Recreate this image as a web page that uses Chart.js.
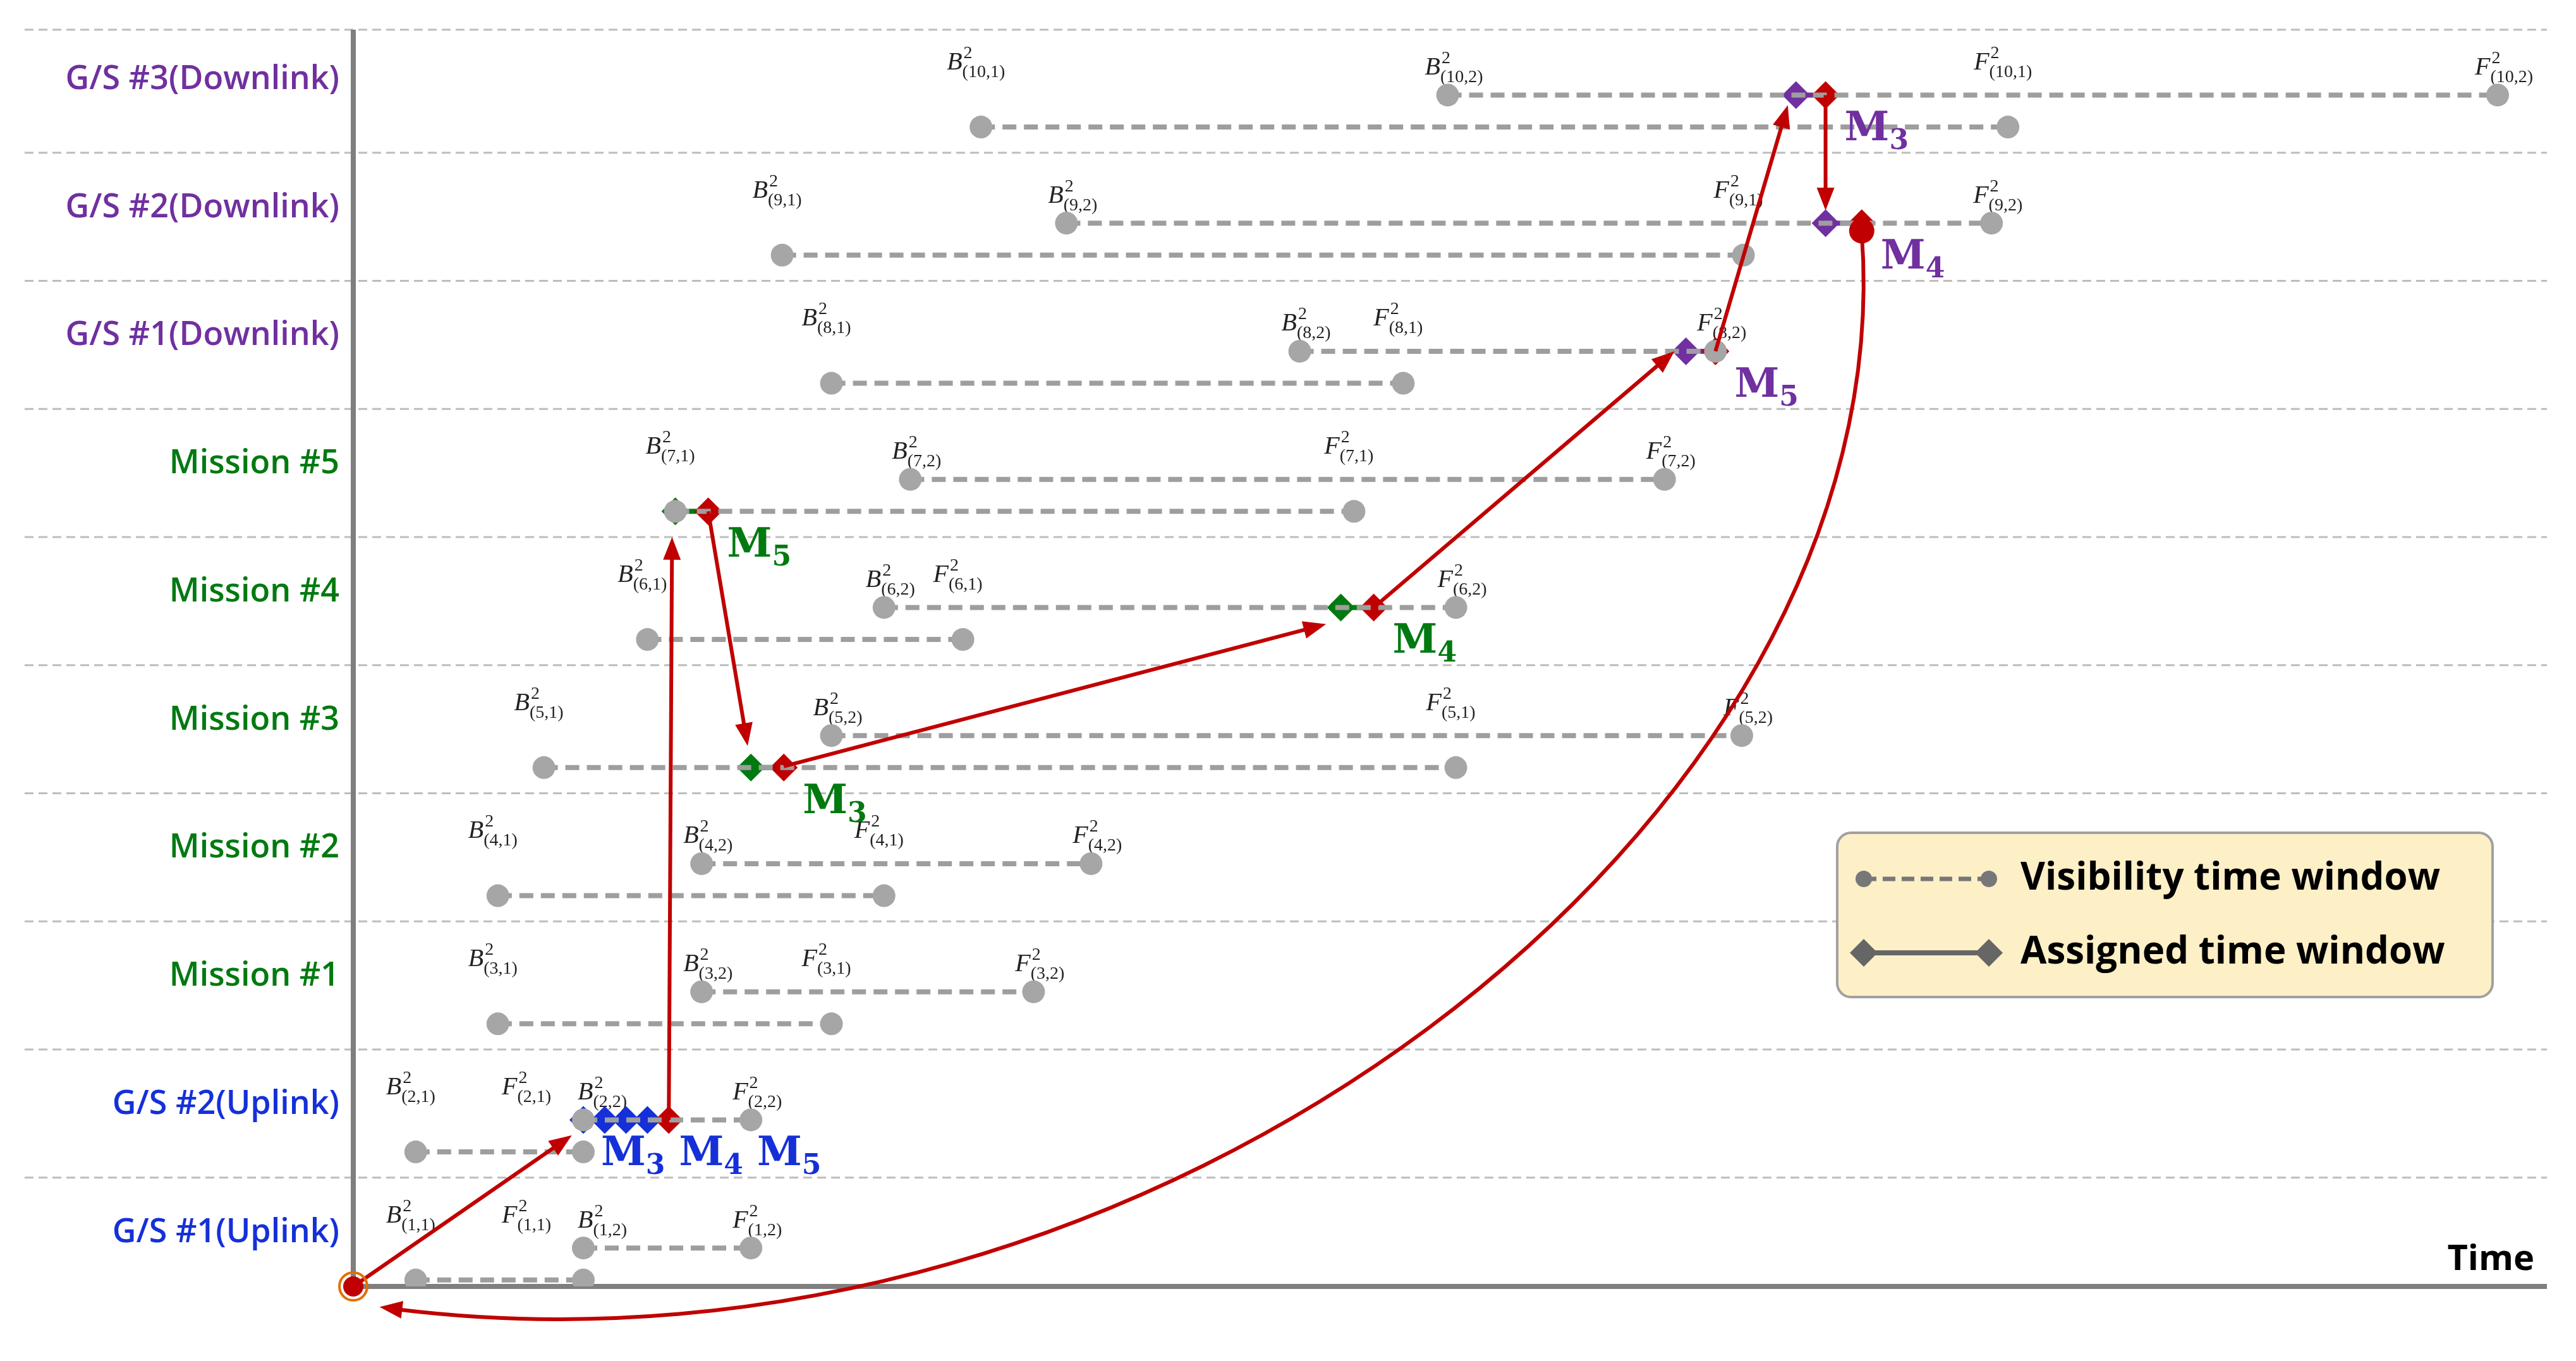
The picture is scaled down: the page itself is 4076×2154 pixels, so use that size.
<!DOCTYPE html>
<html>
<head>
<meta charset="utf-8">
<script src="https://cdn.jsdelivr.net/npm/chart.js@4.4.0/dist/chart.umd.min.js"></script>
<style>
  html, body { margin: 0; padding: 0; background: #fff; }
  #wrap { width: 4076px; height: 2154px; }
</style>
</head>
<body>
<div id="wrap"><canvas id="myChart"></canvas></div>
<script>
// Filas, de abajo hacia arriba
const rowNames = ['G/S #1(Uplink)', 'G/S #2(Uplink)', 'Mission #1', 'Mission #2', 'Mission #3',
  'Mission #4', 'Mission #5', 'G/S #1(Downlink)', 'G/S #2(Downlink)', 'G/S #3(Downlink)'];
const rowColors = ['#1530d8', '#1530d8', '#007a10', '#007a10', '#007a10',
  '#007a10', '#007a10', '#7030a0', '#7030a0', '#7030a0'];
// Ventanas de visibilidad (tiempo)
const w1Start = [3.8, 3.8, 8.8, 8.8, 11.6, 17.9, 19.6, 29.1, 26.1, 38.2];
const w1End   = [14.0, 14.0, 29.1, 32.3, 67.1, 37.1, 60.9, 63.9, 84.6, 100.7];
const w2Start = [14.0, 14.0, 21.2, 21.2, 29.1, 32.3, 33.9, 57.6, 43.4, 66.6];
const w2End   = [24.2, 24.2, 41.4, 44.9, 84.5, 67.1, 79.8, 82.9, 99.7, 130.5];
// Ventanas asignadas: fila, ventana (1 o 2), tiempos, etiqueta
const assignedRow = [1, 6, 4, 5, 7, 8, 9];
const assignedWin = [2, 1, 1, 2, 2, 2, 2];
const assignedTimes = [[14.0, 15.3, 16.6, 17.9, 19.2], [19.6, 21.6], [24.2, 26.2], [60.1, 62.1],
  [81.1, 82.9], [89.6, 91.8], [87.8, 89.6]];
const assignedLabels = [['3', '4', '5'], ['5'], ['3'], ['4'], ['5'], ['4'], ['3']];
// Flechas (inicio y fin en unidades de datos)
const arrowFrom = [[0, 0], [19.2, 1.3], [21.6, 6.05], [26.2, 4.06], [62.1, 5.3], [82.9, 7.3], [89.6, 9.3]];
const arrowTo   = [[13.3, 1.18], [19.4, 5.85], [24.0, 4.22], [59.2, 5.17], [80.4, 7.3], [87.3, 9.22], [89.6, 8.4]];
const returnCurve = [[91.8, 8.22], [94.5, 3.6], [48.5, -0.9], [1.6, -0.16]];

const lowY = k => k + 0.05;
const upY = k => k + 0.3;
const RED = '#c00000';

const datasets = [];
rowNames.forEach((n, k) => {
  [[w1Start[k], w1End[k], lowY(k)], [w2Start[k], w2End[k], upY(k)]].forEach(([a, b, y]) => {
    datasets.push({
      data: [{ x: a, y }, { x: b, y }], showLine: true,
      borderColor: '#9e9e9e', borderWidth: 8, borderDash: [22, 12],
      pointRadius: 18, pointBackgroundColor: '#a6a6a6', pointBorderWidth: 0
    });
  });
});
assignedRow.forEach((k, i) => {
  const y = assignedWin[i] === 1 ? lowY(k) : upY(k);
  const t = assignedTimes[i];
  datasets.push({
    data: t.map(x => ({ x, y })), showLine: true,
    borderColor: rowColors[k], borderWidth: 8,
    pointStyle: 'rectRot', pointRadius: 22, pointBorderWidth: 0,
    pointBackgroundColor: t.map((_, j) => j === t.length - 1 ? RED : rowColors[k])
  });
});

function bf(ctx, letter, i, j, x, y) {
  ctx.fillStyle = '#222';
  ctx.textBaseline = 'alphabetic';
  ctx.textAlign = 'left';
  ctx.font = 'italic 40px "Liberation Serif"';
  const w = ctx.measureText(letter).width;
  const sub = '(' + i + ',' + j + ')';
  ctx.font = '28px "Liberation Serif"';
  const ws = ctx.measureText(sub).width;
  const x0 = x - (w + ws) / 2;
  ctx.font = 'italic 40px "Liberation Serif"';
  ctx.fillText(letter, x0, y);
  ctx.font = '28px "Liberation Serif"';
  ctx.fillText('2', x0 + w + 2, y - 18);
  ctx.fillText(sub, x0 + w, y + 12);
}

function arrowHead(ctx, x, y, ang) {
  const L = 36, W = 14;
  ctx.beginPath();
  ctx.moveTo(x, y);
  ctx.lineTo(x - L * Math.cos(ang) + W * Math.sin(ang), y - L * Math.sin(ang) - W * Math.cos(ang));
  ctx.lineTo(x - L * Math.cos(ang) - W * Math.sin(ang), y - L * Math.sin(ang) + W * Math.cos(ang));
  ctx.closePath();
  ctx.fill();
}

const decor = {
  id: 'decor',
  beforeDatasetsDraw(chart) {
    const { ctx, scales: { x, y }, chartArea: ca } = chart;
    ctx.save();
    // líneas de separación
    ctx.strokeStyle = '#bdbdbd'; ctx.lineWidth = 3; ctx.setLineDash([14, 8]);
    for (let k = 0; k <= 9; k++) {
      const py = Math.max(y.getPixelForValue(k + 0.85), ca.top);
      ctx.beginPath(); ctx.moveTo(39, py); ctx.lineTo(ca.right, py); ctx.stroke();
    }
    ctx.setLineDash([]);
    // ejes
    ctx.strokeStyle = '#7f7f7f'; ctx.lineWidth = 8;
    ctx.beginPath(); ctx.moveTo(ca.left, ca.top); ctx.lineTo(ca.left, ca.bottom);
    ctx.lineTo(ca.right, ca.bottom); ctx.stroke();
    // nombres de filas
    ctx.font = '600 52px "Open Sans"'; ctx.textAlign = 'right'; ctx.textBaseline = 'middle';
    rowNames.forEach((n, k) => {
      ctx.fillStyle = rowColors[k];
      ctx.fillText(n, ca.left - 22, y.getPixelForValue(k + 0.42));
    });
    ctx.fillStyle = '#000'; ctx.font = 'bold 56px "Open Sans"';
    ctx.fillText('Time', ca.right - 20, ca.bottom - 42);
    // etiquetas B / F
    rowNames.forEach((n, k) => {
      const ly = y.getPixelForValue(k + 0.5);
      const same = w1End[k] === w2Start[k];
      bf(ctx, 'B', k + 1, 1, x.getPixelForValue(w1Start[k]) - 8, ly);
      bf(ctx, 'F', k + 1, 1, x.getPixelForValue(w1End[k]) - (same ? 90 : 8), ly);
      bf(ctx, 'B', k + 1, 2, x.getPixelForValue(w2Start[k]) + (same ? 30 : 10), ly + 8);
      bf(ctx, 'F', k + 1, 2, x.getPixelForValue(w2End[k]) + 10, ly + 8);
    });
    ctx.restore();
  },
  afterDatasetsDraw(chart) {
    const { ctx, scales: { x, y } } = chart;
    const px = p => [x.getPixelForValue(p[0]), y.getPixelForValue(p[1])];
    ctx.save();
    ctx.strokeStyle = RED; ctx.fillStyle = RED; ctx.lineWidth = 6;
    arrowFrom.forEach((f, i) => {
      const [x0, y0] = px(f), [x1, y1] = px(arrowTo[i]);
      const ang = Math.atan2(y1 - y0, x1 - x0);
      ctx.beginPath(); ctx.moveTo(x0, y0);
      ctx.lineTo(x1 - 30 * Math.cos(ang), y1 - 30 * Math.sin(ang)); ctx.stroke();
      arrowHead(ctx, x1, y1, ang);
    });
    const c = returnCurve.map(px);
    ctx.beginPath(); ctx.moveTo(c[0][0], c[0][1]);
    ctx.bezierCurveTo(c[1][0], c[1][1], c[2][0], c[2][1], c[3][0] + 30, c[3][1] + 4);
    ctx.stroke();
    arrowHead(ctx, c[3][0], c[3][1], Math.atan2(c[3][1] - c[2][1], c[3][0] - c[2][0]));
    // origen
    const [ox, oy] = px([0, 0]);
    ctx.beginPath(); ctx.arc(ox, oy, 16, 0, Math.PI * 2); ctx.fill();
    ctx.strokeStyle = '#e07000'; ctx.lineWidth = 4;
    ctx.beginPath(); ctx.arc(ox, oy, 22, 0, Math.PI * 2); ctx.stroke();
    // círculo rojo grande G/S #2 downlink
    const g = px([assignedTimes[5][1], upY(8) - 0.06]);
    ctx.beginPath(); ctx.arc(g[0], g[1], 20, 0, Math.PI * 2); ctx.fill();
    // etiquetas M
    assignedRow.forEach((k, i) => {
      const t = assignedTimes[i];
      const yy = (assignedWin[i] === 1 ? lowY(k) : upY(k));
      let sx = x.getPixelForValue(t[t.length - 1]) + 30;
      if (assignedLabels[i].length > 1) sx = x.getPixelForValue(t[0]) + 28;
      const sy = y.getPixelForValue(yy) + 72;
      ctx.fillStyle = rowColors[k]; ctx.textAlign = 'left'; ctx.textBaseline = 'alphabetic';
      assignedLabels[i].forEach(m => {
        ctx.font = 'bold 64px "DejaVu Serif"';
        ctx.fillText('M', sx, sy);
        const w = ctx.measureText('M').width;
        ctx.font = 'bold 44px "DejaVu Serif"';
        ctx.fillText(m, sx + w, sy + 14);
        sx += w + ctx.measureText(m).width + 22;
      });
    });
    // leyenda
    const lx = 2907, ly = 1318, lw = 1037, lh = 260;
    ctx.fillStyle = '#fdefc6'; ctx.strokeStyle = '#a0a0a0'; ctx.lineWidth = 4;
    ctx.beginPath(); ctx.roundRect(lx, ly, lw, lh, 22); ctx.fill(); ctx.stroke();
    const r1 = ly + 73, r2 = ly + 190, a = lx + 42, b = lx + 240;
    ctx.strokeStyle = '#777'; ctx.lineWidth = 7; ctx.setLineDash([20, 10]);
    ctx.beginPath(); ctx.moveTo(a, r1); ctx.lineTo(b, r1); ctx.stroke();
    ctx.setLineDash([]);
    ctx.fillStyle = '#777';
    [a, b].forEach(p => { ctx.beginPath(); ctx.arc(p, r1, 13, 0, Math.PI * 2); ctx.fill(); });
    ctx.strokeStyle = '#666'; ctx.lineWidth = 8;
    ctx.beginPath(); ctx.moveTo(a, r2); ctx.lineTo(b, r2); ctx.stroke();
    ctx.fillStyle = '#666';
    [a, b].forEach(p => {
      ctx.beginPath(); ctx.moveTo(p, r2 - 22); ctx.lineTo(p + 22, r2); ctx.lineTo(p, r2 + 22);
      ctx.lineTo(p - 22, r2); ctx.closePath(); ctx.fill();
    });
    ctx.fillStyle = '#000'; ctx.font = 'bold 60px "Open Sans"'; ctx.textBaseline = 'middle';
    ctx.fillText('Visibility time window', b + 50, r1);
    ctx.fillText('Assigned time window', b + 50, r2);
    ctx.restore();
  }
};

new Chart(document.getElementById('myChart'), {
  type: 'scatter',
  data: { datasets },
  options: {
    responsive: true, maintainAspectRatio: false, animation: false,
    layout: { padding: { left: 559, right: 46, top: 47, bottom: 118 } },
    plugins: { legend: { display: false }, tooltip: { enabled: false } },
    scales: {
      x: { type: 'linear', min: 0, max: 133.5, display: false },
      y: { type: 'linear', min: 0, max: 9.81, display: false }
    }
  },
  plugins: [decor]
});
</script>
</body>
</html>
